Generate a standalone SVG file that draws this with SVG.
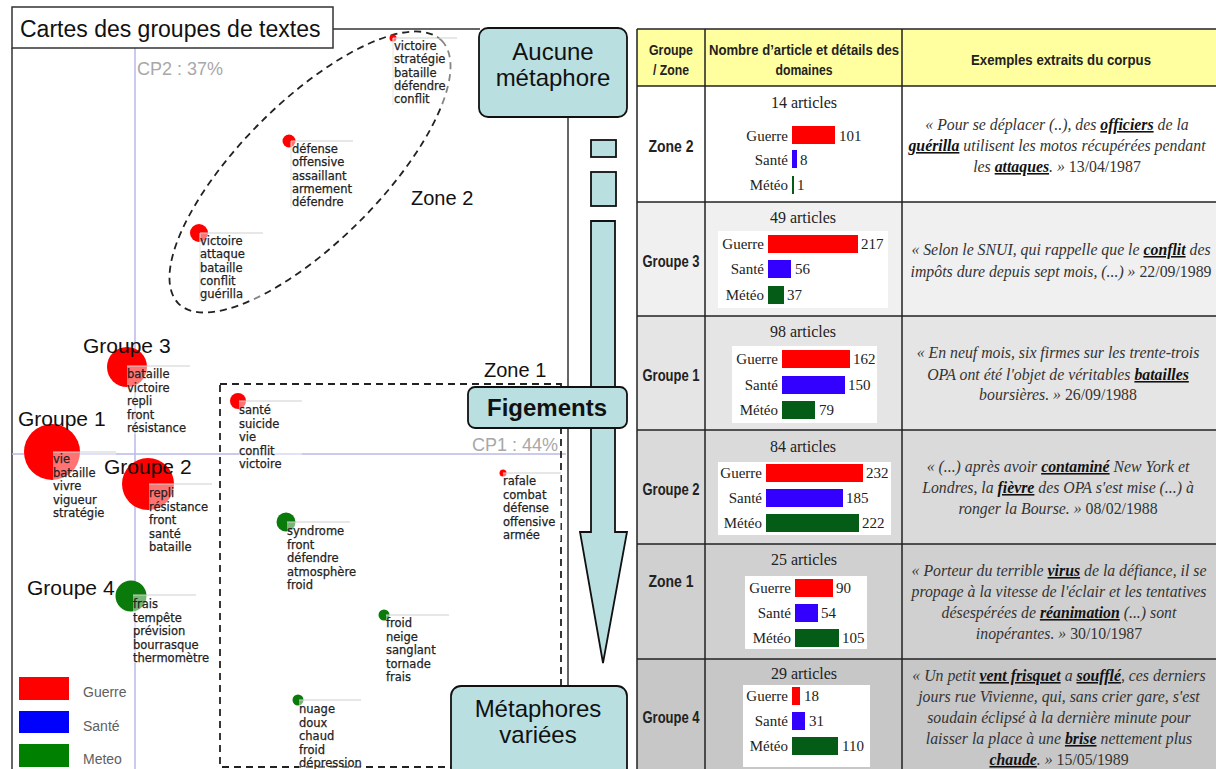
<svg xmlns="http://www.w3.org/2000/svg" width="1216" height="769" viewBox="0 0 1216 769">
<style>
.w{font-family:"DejaVu Sans",sans-serif;font-size:11.5px;fill:#222;stroke:#222;stroke-width:0.25}
.wb{fill:#fff;opacity:0.45}
.ll{stroke:#cfcfcf;stroke-width:1.2}
.vl{stroke:#e2e2e2;stroke-width:1}
.gl{font-family:"Liberation Sans",Arial,sans-serif;font-size:21px;fill:#111}
.zl{font-family:"Liberation Sans",Arial,sans-serif;font-size:20px;fill:#111}
.cp{font-family:"Liberation Sans",Arial,sans-serif;font-size:18px;fill:#a8a8a8}
.box{fill:#b9dfe1;stroke:#111;stroke-width:1.8}
.bt{font-family:"Liberation Sans",Arial,sans-serif;font-size:24px;fill:#111;text-anchor:middle}
.q{font-family:"Liberation Serif","Times New Roman",serif;font-size:15.8px;font-style:italic;fill:#333;text-anchor:middle}
.u{font-weight:bold;text-decoration:underline;fill:#111}
.d{font-style:normal}
.bl{font-family:"Liberation Serif","Times New Roman",serif;font-size:15px;fill:#222}
.ar{font-family:"Liberation Serif","Times New Roman",serif;font-size:16px;fill:#222;text-anchor:middle}
.hd{font-family:"Liberation Sans",Arial,sans-serif;font-weight:bold;font-size:15px;fill:#222;text-anchor:middle}
.rl{font-family:"Liberation Sans",Arial,sans-serif;font-weight:bold;font-size:16px;fill:#222;text-anchor:middle}
.tb{stroke:#222;stroke-width:1.5;fill:none}
.dash{fill:none;stroke:#222;stroke-width:1.8;stroke-dasharray:7,5}
.lg{font-family:"Liberation Sans",Arial,sans-serif;font-size:14px;fill:#606060}
.r{fill:#ff0000}.b{fill:#3300ff}.g{fill:#045c16}
.gr{fill:#0a7a0a}
</style>

<!-- map frame -->
<g id="map-frame">
  <line x1="12" y1="48" x2="12" y2="769" stroke="#333" stroke-width="1.5"/>
  <line x1="333" y1="29" x2="480" y2="29" stroke="#333" stroke-width="1.5"/>
  <line x1="568" y1="117" x2="568" y2="686" stroke="#333" stroke-width="1.5"/>
  <line x1="135" y1="48" x2="135" y2="769" stroke="#b8b8ea" stroke-width="1.5"/>
  <line x1="12" y1="454" x2="566" y2="454" stroke="#b8b8ea" stroke-width="1.5"/>
  <text class="cp" x="137" y="75">CP2 : 37%</text>
  <text class="cp" x="558" y="451" text-anchor="end">CP1 : 44%</text>
</g>

<g id="title">
  <rect x="12" y="7" width="321" height="41" fill="#fff" stroke="#333" stroke-width="1.5"/>
  <text x="20" y="37" font-family="Liberation Sans, Arial, sans-serif" font-size="23" fill="#111">Cartes des groupes de textes</text>
</g>

<!-- Zone 2 -->
<g id="zone2">
  <ellipse cx="310" cy="172" rx="186" ry="70" transform="rotate(-45 310 172)" class="dash"/>
  <text class="zl" x="411" y="205">Zone 2</text>
</g>

<g id="z2-p1">
  <circle cx="393" cy="38" r="3.5" class="r"/>
  <rect x="393" y="38" width="64" height="67" class="wb"/>
  <line x1="393" y1="38" x2="457" y2="38" class="ll"/>
  <line x1="393" y1="38" x2="393" y2="105" class="vl"/>
  <text class="w" x="394" y="50"><tspan x="394">victoire</tspan><tspan x="394" dy="13.3">stratégie</tspan><tspan x="394" dy="13.3">bataille</tspan><tspan x="394" dy="13.3">défendre</tspan><tspan x="394" dy="13.3">conflit</tspan></text>
</g>
<g id="z2-p2">
  <circle cx="289" cy="141" r="6.5" class="r"/>
  <rect x="291" y="141" width="62" height="67" class="wb"/>
  <line x1="291" y1="141" x2="353" y2="141" class="ll"/>
  <line x1="291" y1="141" x2="291" y2="208" class="vl"/>
  <text class="w" x="292" y="153"><tspan x="292">défense</tspan><tspan x="292" dy="13.3">offensive</tspan><tspan x="292" dy="13.3">assaillant</tspan><tspan x="292" dy="13.3">armement</tspan><tspan x="292" dy="13.3">défendre</tspan></text>
</g>
<g id="z2-p3">
  <circle cx="199" cy="233" r="9" class="r"/>
  <rect x="200" y="233" width="63" height="67" class="wb"/>
  <line x1="200" y1="233" x2="263" y2="233" class="ll"/>
  <line x1="200" y1="233" x2="200" y2="300" class="vl"/>
  <text class="w" x="200" y="245"><tspan x="200">victoire</tspan><tspan x="200" dy="13.3">attaque</tspan><tspan x="200" dy="13.3">bataille</tspan><tspan x="200" dy="13.3">conflit</tspan><tspan x="200" dy="13.3">guérilla</tspan></text>
</g>

<!-- Zone 1 -->
<g id="zone1">
  <rect x="220" y="384" width="341" height="383" class="dash"/>
  <text class="zl" x="484" y="377">Zone 1</text>
</g>

<g id="groupe3">
  <circle cx="127" cy="367" r="20" class="r"/>
  <rect x="127" y="366" width="63" height="68" class="wb"/>
  <line x1="127" y1="366" x2="190" y2="366" class="ll"/>
  <text class="gl" x="83" y="353">Groupe 3</text>
  <text class="w" x="127" y="378"><tspan x="127">bataille</tspan><tspan x="127" dy="13.5">victoire</tspan><tspan x="127" dy="13.5">repli</tspan><tspan x="127" dy="13.5">front</tspan><tspan x="127" dy="13.5">résistance</tspan></text>
</g>
<g id="groupe1">
  <circle cx="52" cy="452" r="28" class="r"/>
  <rect x="53" y="452" width="63" height="68" class="wb"/>
  <line x1="53" y1="452" x2="116" y2="452" class="ll"/>
  <text class="gl" x="18" y="426">Groupe 1</text>
  <text class="w" x="53" y="463"><tspan x="53">vie</tspan><tspan x="53" dy="13.5">bataille</tspan><tspan x="53" dy="13.5">vivre</tspan><tspan x="53" dy="13.5">vigueur</tspan><tspan x="53" dy="13.5">stratégie</tspan></text>
</g>
<g id="groupe2">
  <circle cx="148" cy="484" r="26" class="r"/>
  <rect x="149" y="484" width="63" height="68" class="wb"/>
  <line x1="149" y1="484" x2="212" y2="484" class="ll"/>
  <text class="gl" x="104" y="474">Groupe 2</text>
  <text class="w" x="149" y="497"><tspan x="149">repli</tspan><tspan x="149" dy="13.5">résistance</tspan><tspan x="149" dy="13.5">front</tspan><tspan x="149" dy="13.5">santé</tspan><tspan x="149" dy="13.5">bataille</tspan></text>
</g>
<g id="groupe4">
  <circle cx="131" cy="596" r="15.5" class="gr"/>
  <rect x="133" y="595" width="63" height="68" class="wb"/>
  <line x1="133" y1="595" x2="196" y2="595" class="ll"/>
  <text class="gl" x="27" y="595">Groupe 4</text>
  <text class="w" x="133" y="608"><tspan x="133">frais</tspan><tspan x="133" dy="13.5">tempête</tspan><tspan x="133" dy="13.5">prévision</tspan><tspan x="133" dy="13.5">bourrasque</tspan><tspan x="133" dy="13.5">thermomètre</tspan></text>
</g>
<g id="z1-p1">
  <circle cx="238" cy="401" r="8" class="r"/>
  <rect x="239" y="401" width="63" height="68" class="wb"/>
  <line x1="239" y1="401" x2="302" y2="401" class="ll"/>
  <text class="w" x="239" y="414"><tspan x="239">santé</tspan><tspan x="239" dy="13.5">suicide</tspan><tspan x="239" dy="13.5">vie</tspan><tspan x="239" dy="13.5">conflit</tspan><tspan x="239" dy="13.5">victoire</tspan></text>
</g>
<g id="z1-p2">
  <circle cx="503" cy="473" r="3.5" class="r"/>
  <rect x="503" y="473" width="58" height="68" class="wb"/>
  <line x1="503" y1="473" x2="561" y2="473" class="ll"/>
  <text class="w" x="503" y="485"><tspan x="503">rafale</tspan><tspan x="503" dy="13.5">combat</tspan><tspan x="503" dy="13.5">défense</tspan><tspan x="503" dy="13.5">offensive</tspan><tspan x="503" dy="13.5">armée</tspan></text>
</g>
<g id="z1-p3">
  <circle cx="286" cy="522" r="9.5" class="gr"/>
  <rect x="287" y="522" width="63" height="68" class="wb"/>
  <line x1="287" y1="522" x2="350" y2="522" class="ll"/>
  <text class="w" x="287" y="535"><tspan x="287">syndrome</tspan><tspan x="287" dy="13.5">front</tspan><tspan x="287" dy="13.5">défendre</tspan><tspan x="287" dy="13.5">atmosphère</tspan><tspan x="287" dy="13.5">froid</tspan></text>
</g>
<g id="z1-p4">
  <circle cx="384" cy="615" r="5.5" class="gr"/>
  <rect x="386" y="615" width="63" height="68" class="wb"/>
  <line x1="386" y1="615" x2="449" y2="615" class="ll"/>
  <text class="w" x="386" y="627"><tspan x="386">froid</tspan><tspan x="386" dy="13.5">neige</tspan><tspan x="386" dy="13.5">sanglant</tspan><tspan x="386" dy="13.5">tornade</tspan><tspan x="386" dy="13.5">frais</tspan></text>
</g>
<g id="z1-p5">
  <circle cx="298" cy="700" r="5.5" class="gr"/>
  <rect x="299" y="700" width="63" height="68" class="wb"/>
  <line x1="299" y1="700" x2="361" y2="700" class="ll"/>
  <text class="w" x="299" y="713"><tspan x="299">nuage</tspan><tspan x="299" dy="13.5">doux</tspan><tspan x="299" dy="13.5">chaud</tspan><tspan x="299" dy="13.5">froid</tspan><tspan x="299" dy="13.5">dépression</tspan></text>
</g>

<g id="legend">
  <rect x="19" y="677" width="50" height="23" fill="#ff0000"/>
  <rect x="19" y="711" width="50" height="22" fill="#0000ff"/>
  <rect x="19" y="744" width="50" height="23" fill="#008000"/>
  <text class="lg" x="83" y="697">Guerre</text>
  <text class="lg" x="83" y="731">Santé</text>
  <text class="lg" x="83" y="764">Meteo</text>
</g>

<!-- connectors: arrow -->
<g id="connectors">
  <rect x="591" y="140" width="25" height="17" class="box" stroke-width="1.5"/>
  <rect x="591" y="172" width="25" height="34" class="box" stroke-width="1.5"/>
  <polygon points="591,221 615,221 615,532 627,532 603,663 580,532 591,532" class="box" stroke-width="1.5"/>
</g>

<g id="aucune">
  <rect x="479" y="28" width="148" height="89" rx="9" class="box"/>
  <text class="bt" x="553" y="60">Aucune</text>
  <text class="bt" x="553" y="86">métaphore</text>
</g>
<g id="figements">
  <rect x="468" y="387" width="159" height="41" rx="7" class="box"/>
  <text class="bt" x="547" y="416" font-weight="bold">Figements</text>
</g>
<g id="metaphores">
  <rect x="451" y="686" width="176" height="95" rx="10" class="box"/>
  <text class="bt" x="538" y="717">Métaphores</text>
  <text class="bt" x="538" y="743">variées</text>
</g>

<!-- table -->
<g id="table">
  <rect x="637" y="29" width="579" height="57" fill="#ffffa0"/>
  <rect x="637" y="86" width="579" height="116" fill="#ffffff"/>
  <rect x="637" y="202" width="579" height="114" fill="#f0f0f0"/>
  <rect x="637" y="316" width="579" height="114" fill="#e5e5e5"/>
  <rect x="637" y="430" width="579" height="114" fill="#dadada"/>
  <rect x="637" y="544" width="579" height="115" fill="#d0d0d0"/>
  <rect x="637" y="659" width="579" height="110" fill="#c7c7c7"/>
  <g class="tb">
    <line x1="637" y1="29" x2="1216" y2="29"/>
    <line x1="637" y1="86" x2="1216" y2="86"/>
    <line x1="637" y1="202" x2="1216" y2="202"/>
    <line x1="637" y1="316" x2="1216" y2="316"/>
    <line x1="637" y1="430" x2="1216" y2="430"/>
    <line x1="637" y1="544" x2="1216" y2="544"/>
    <line x1="637" y1="659" x2="1216" y2="659"/>
    <line x1="637" y1="29" x2="637" y2="769"/>
    <line x1="705" y1="29" x2="705" y2="769"/>
    <line x1="902" y1="29" x2="902" y2="769"/>
  </g>
  <text class="hd" x="671" y="55" textLength="44" lengthAdjust="spacingAndGlyphs">Groupe</text>
  <text class="hd" x="671" y="75" textLength="36" lengthAdjust="spacingAndGlyphs">/ Zone</text>
  <text class="hd" x="804" y="55" textLength="190" lengthAdjust="spacingAndGlyphs">Nombre d’article et détails des</text>
  <text class="hd" x="804" y="75" textLength="57" lengthAdjust="spacingAndGlyphs">domaines</text>
  <text class="hd" x="1061" y="65" textLength="180" lengthAdjust="spacingAndGlyphs">Exemples extraits du corpus</text>

  <text class="rl" x="671" y="152" textLength="45" lengthAdjust="spacingAndGlyphs">Zone 2</text>
  <text class="rl" x="671" y="267" textLength="57" lengthAdjust="spacingAndGlyphs">Groupe 3</text>
  <text class="rl" x="671" y="381" textLength="57" lengthAdjust="spacingAndGlyphs">Groupe 1</text>
  <text class="rl" x="671" y="495" textLength="57" lengthAdjust="spacingAndGlyphs">Groupe 2</text>
  <text class="rl" x="671" y="587" textLength="45" lengthAdjust="spacingAndGlyphs">Zone 1</text>
  <text class="rl" x="671" y="723" textLength="57" lengthAdjust="spacingAndGlyphs">Groupe 4</text>

  <!-- row 1 -->
  <text class="ar" x="804" y="108">14 articles</text>
  <rect x="792" y="126" width="43" height="18" class="r"/>
  <rect x="792" y="150" width="5" height="18" class="b"/>
  <rect x="792" y="176" width="2" height="18" class="g"/>
  <text class="bl" x="788" y="141" text-anchor="end">Guerre</text><text class="bl" x="839" y="141">101</text>
  <text class="bl" x="788" y="165" text-anchor="end">Santé</text><text class="bl" x="800" y="165">8</text>
  <text class="bl" x="788" y="190" text-anchor="end">Météo</text><text class="bl" x="797" y="190">1</text>

  <!-- row 2 -->
  <text class="ar" x="803" y="223">49 articles</text>
  <rect x="718" y="231" width="170" height="77" fill="#fff"/>
  <rect x="768" y="235" width="90" height="18" class="r"/>
  <rect x="768" y="260" width="23" height="18" class="b"/>
  <rect x="768" y="286" width="16" height="18" class="g"/>
  <text class="bl" x="764" y="249" text-anchor="end">Guerre</text><text class="bl" x="861" y="249">217</text>
  <text class="bl" x="764" y="274" text-anchor="end">Santé</text><text class="bl" x="795" y="274">56</text>
  <text class="bl" x="764" y="300" text-anchor="end">Météo</text><text class="bl" x="787" y="300">37</text>

  <!-- row 3 -->
  <text class="ar" x="803" y="337">98 articles</text>
  <rect x="732" y="346" width="145" height="77" fill="#fff"/>
  <rect x="782" y="350" width="68" height="18" class="r"/>
  <rect x="782" y="376" width="63" height="18" class="b"/>
  <rect x="782" y="401" width="33" height="18" class="g"/>
  <text class="bl" x="778" y="364" text-anchor="end">Guerre</text><text class="bl" x="853" y="364">162</text>
  <text class="bl" x="778" y="390" text-anchor="end">Santé</text><text class="bl" x="848" y="390">150</text>
  <text class="bl" x="778" y="415" text-anchor="end">Météo</text><text class="bl" x="819" y="415">79</text>

  <!-- row 4 -->
  <text class="ar" x="803" y="452">84 articles</text>
  <rect x="718" y="462" width="173" height="73" fill="#fff"/>
  <rect x="766" y="464" width="97" height="18" class="r"/>
  <rect x="766" y="489" width="77" height="18" class="b"/>
  <rect x="766" y="514" width="93" height="18" class="g"/>
  <text class="bl" x="762" y="478" text-anchor="end">Guerre</text><text class="bl" x="866" y="478">232</text>
  <text class="bl" x="762" y="503" text-anchor="end">Santé</text><text class="bl" x="846" y="503">185</text>
  <text class="bl" x="762" y="528" text-anchor="end">Météo</text><text class="bl" x="862" y="528">222</text>

  <!-- row 5 -->
  <text class="ar" x="804" y="565">25 articles</text>
  <rect x="745" y="576" width="122" height="73" fill="#fff"/>
  <rect x="795" y="579" width="38" height="18" class="r"/>
  <rect x="795" y="604" width="23" height="18" class="b"/>
  <rect x="795" y="629" width="44" height="18" class="g"/>
  <text class="bl" x="791" y="593" text-anchor="end">Guerre</text><text class="bl" x="836" y="593">90</text>
  <text class="bl" x="791" y="618" text-anchor="end">Santé</text><text class="bl" x="821" y="618">54</text>
  <text class="bl" x="791" y="643" text-anchor="end">Météo</text><text class="bl" x="842" y="643">105</text>

  <!-- row 6 -->
  <text class="ar" x="804" y="679">29 articles</text>
  <rect x="743" y="685" width="127" height="82" fill="#fff"/>
  <rect x="792" y="687" width="8" height="18" class="r"/>
  <rect x="792" y="712" width="13" height="18" class="b"/>
  <rect x="792" y="737" width="46" height="18" class="g"/>
  <text class="bl" x="788" y="701" text-anchor="end">Guerre</text><text class="bl" x="804" y="701">18</text>
  <text class="bl" x="788" y="726" text-anchor="end">Santé</text><text class="bl" x="809" y="726">31</text>
  <text class="bl" x="788" y="751" text-anchor="end">Météo</text><text class="bl" x="842" y="751">110</text>

  <!-- quotes -->
  <text class="q" x="1057" y="130">« Pour se déplacer (..), des <tspan class="u">officiers</tspan> de la</text>
  <text class="q" x="1057" y="151"><tspan class="u">guérilla</tspan> utilisent les motos récupérées pendant</text>
  <text class="q" x="1057" y="172">les <tspan class="u">attaques</tspan>. » <tspan class="d">13/04/1987</tspan></text>

  <text class="q" x="1061" y="255">« Selon le SNUI, qui rappelle que le <tspan class="u">conflit</tspan> des</text>
  <text class="q" x="1061" y="277">impôts dure depuis sept mois, (...) » <tspan class="d">22/09/1989</tspan></text>

  <text class="q" x="1058" y="358">« En neuf mois, six firmes sur les trente-trois</text>
  <text class="q" x="1058" y="380">OPA ont été l'objet de véritables <tspan class="u">batailles</tspan></text>
  <text class="q" x="1058" y="400">boursières. » <tspan class="d">26/09/1988</tspan></text>

  <text class="q" x="1058" y="472">« (...) après avoir <tspan class="u">contaminé</tspan> New York et</text>
  <text class="q" x="1058" y="493">Londres, la <tspan class="u">fièvre</tspan> des OPA s'est mise (...) à</text>
  <text class="q" x="1058" y="514">ronger la Bourse. » <tspan class="d">08/02/1988</tspan></text>

  <text class="q" x="1059" y="576">« Porteur du terrible <tspan class="u">virus</tspan> de la défiance, il se</text>
  <text class="q" x="1059" y="597">propage à la vitesse de l'éclair et les tentatives</text>
  <text class="q" x="1059" y="618">désespérées de <tspan class="u">réanimation</tspan>  (...) sont</text>
  <text class="q" x="1059" y="639">inopérantes. » <tspan class="d">30/10/1987</tspan></text>

  <text class="q" x="1059" y="681">« Un petit <tspan class="u">vent frisquet</tspan> a <tspan class="u">soufflé</tspan>, ces derniers</text>
  <text class="q" x="1059" y="702">jours rue Vivienne, qui, sans crier gare, s'est</text>
  <text class="q" x="1059" y="723">soudain éclipsé à la dernière minute pour</text>
  <text class="q" x="1059" y="744">laisser la place à une <tspan class="u">brise</tspan> nettement plus</text>
  <text class="q" x="1059" y="765"><tspan class="u">chaude</tspan>. » <tspan class="d">15/05/1989</tspan></text>
</g>
</svg>
